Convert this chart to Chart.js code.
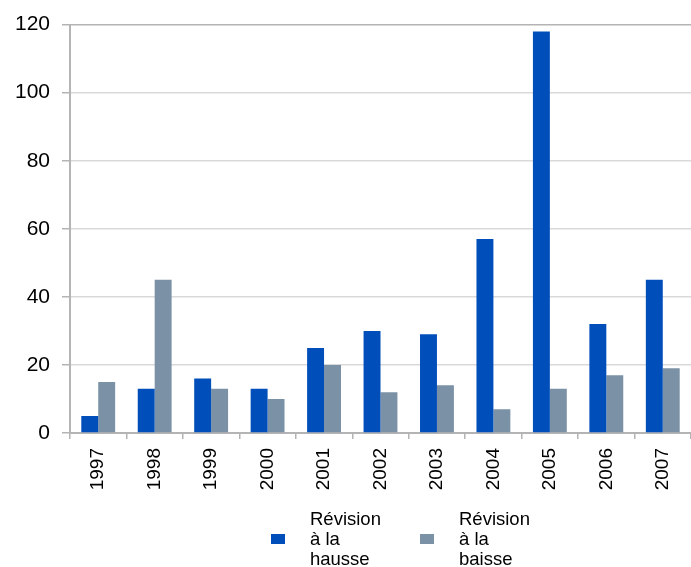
<!DOCTYPE html>
<html lang="fr">
<head>
<meta charset="UTF-8">
<title>Révisions</title>
<script src="https://cdn.jsdelivr.net/npm/chart.js"></script>
<style>
    html, body { margin: 0; padding: 0; background: #fff; }
    #wrap { width: 691px; height: 567px; position: relative; }
</style>
</head>
<body>
<div id="wrap"><canvas id="chart"></canvas></div>
<script>
    // Data
    const years = ['1997', '1998', '1999', '2000', '2001', '2002', '2003', '2004', '2005', '2006', '2007'];
    const hausse = [5, 13, 16, 13, 25, 30, 29, 57, 118, 32, 45];
    const baisse = [15, 45, 13, 10, 20, 12, 14, 7, 13, 17, 19];
    const labelHausse = ['Révision', 'à la', 'hausse'];
    const labelBaisse = ['Révision', 'à la', 'baisse'];
    const yTicks = [0, 20, 40, 60, 80, 100, 120];

    const FONT = 'Liberation Sans, Arial, sans-serif';

    // legend with multi-line labels drawn under the axis
    const bottomLegend = {
        id: 'bottomLegend',
        afterDraw(chart) {
            const ctx = chart.ctx;
            const boxX = [271, 420];
            ctx.save();
            ctx.font = '18.5px ' + FONT;
            ctx.textBaseline = 'alphabetic';
            chart.data.datasets.forEach((ds, i) => {
                ctx.fillStyle = ds.backgroundColor;
                ctx.fillRect(boxX[i], 534, 14, 10);
                ctx.fillStyle = '#000';
                ds.label.forEach((line, j) => {
                    ctx.fillText(line, boxX[i] + 39, 525 + j * 20);
                });
            });
            ctx.restore();
        }
    };

    new Chart(document.getElementById('chart'), {
        type: 'bar',
        data: {
            labels: years,
            datasets: [
                { label: labelHausse, data: hausse, backgroundColor: '#004EBA' },
                { label: labelBaisse, data: baisse, backgroundColor: '#7A91A6' }
            ]
        },
        options: {
            responsive: true,
            maintainAspectRatio: false,
            animation: false,
            layout: { padding: { top: 11, right: 0, bottom: 74, left: 0 } },
            datasets: { bar: { categoryPercentage: 0.6, barPercentage: 1 } },
            plugins: {
                legend: { display: false },
                tooltip: { enabled: false }
            },
            scales: {
                x: {
                    afterFit(scale) { scale.height = 60; scale.paddingRight = 0; },
                    grid: {
                        offset: true,
                        drawOnChartArea: false,
                        drawTicks: true,
                        tickLength: 6,
                        color: '#b4b4b4',
                        lineWidth: 1.5
                    },
                    border: { color: '#b4b4b4', width: 2 },
                    ticks: {
                        minRotation: 90,
                        maxRotation: 90,
                        padding: 9,
                        color: '#000',
                        font: { family: FONT, size: 19 }
                    }
                },
                y: {
                    min: 0,
                    max: 120,
                    afterFit(scale) { scale.width = 70; },
                    afterBuildTicks(scale) { scale.ticks = yTicks.map(v => ({ value: v })); },
                    grid: {
                        color: (c) => c.tick && c.tick.value === 120 ? '#b4b4b4' : '#d9d9d9',
                        lineWidth: 1.5,
                        drawTicks: true,
                        tickLength: 8,
                        tickColor: '#b4b4b4'
                    },
                    border: { color: '#b4b4b4', width: 2 },
                    ticks: {
                        padding: 12,
                        color: '#000',
                        font: { family: FONT, size: 21 }
                    }
                }
            }
        },
        plugins: [bottomLegend]
    });
</script>
</body>
</html>
